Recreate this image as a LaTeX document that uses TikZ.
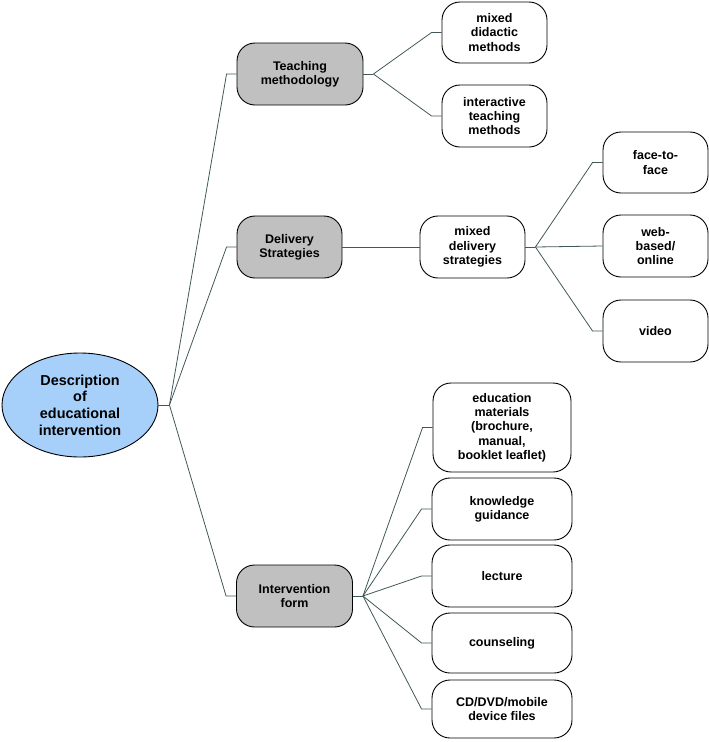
\documentclass[tikz,border=0pt]{standalone}
\usepackage{fontspec}
\setmainfont{Liberation Sans}
\usetikzlibrary{shapes.geometric}
\definecolor{rootblue}{RGB}{166,208,250}
\definecolor{boxgray}{RGB}{192,192,192}
\definecolor{linecol}{RGB}{64,88,88}
\begin{document}
\begin{tikzpicture}[x=1pt,y=-1pt,
  base/.style={draw=black,line width=0.9pt,align=center,inner sep=0pt,
    font=\fontsize{12.5}{14.3}\selectfont\bfseries},
  rootnode/.style={base,ellipse,fill=rootblue,minimum width=156pt,minimum height=104pt,
    font=\fontsize{14.4}{16.7}\selectfont\bfseries},
  catbox/.style={base,rectangle,rounded corners=18pt,fill=boxgray,minimum height=62pt},
  leafbox/.style={base,rectangle,rounded corners=18pt,fill=white,minimum height=62pt},
  conn/.style={draw=linecol,line width=0.8pt}
]
\useasboundingbox (0,0) rectangle (709,742);
% root
\node[rootnode] (root) at (80,405) {Description\\of\\educational\\intervention};
% categories
\node[catbox,minimum width=126pt] (teach) at (300,74) {Teaching\\methodology};
\node[catbox,minimum width=105pt] (deliv) at (289.5,247) {Delivery\\Strategies};
\node[catbox,minimum width=116pt,minimum height=62pt] (interv) at (294.5,596) {Intervention\\form};
% teaching children
\node[leafbox,minimum width=105pt,minimum height=61pt] (didac) at (494.5,32.5) {mixed\\didactic\\methods};
\node[leafbox,minimum width=105pt] (inter) at (494.5,116) {interactive\\teaching\\methods};
% delivery children
\node[leafbox,minimum width=105pt] (mixdel) at (472.5,247) {mixed\\delivery\\strategies};
\node[leafbox,minimum width=105pt,minimum height=61pt] (face) at (655.5,162.5) {face-to-\\face};
\node[leafbox,minimum width=105pt] (web) at (655.5,246) {web-\\based/\\online};
\node[leafbox,minimum width=105pt] (video) at (655.5,331) {video};
% intervention children
\node[leafbox,minimum width=138pt,minimum height=89pt] (edu) at (502,427.5) {education\\materials\\(brochure,\\manual,\\booklet leaflet)};
\node[leafbox,minimum width=140pt] (know) at (502,509) {knowledge\\guidance};
\node[leafbox,minimum width=140pt] (lect) at (502,576) {lecture};
\node[leafbox,minimum width=140pt,minimum height=60pt] (couns) at (502,643) {counseling};
\node[leafbox,minimum width=140pt,minimum height=58pt] (cd) at (502,709) {CD/DVD/mobile\\device files};
% connectors: root
\draw[conn] (root.east) -- ++(11,0) coordinate (rj);
\draw[conn] (rj) -- ([xshift=-10pt]teach.west) -- (teach.west);
\draw[conn] (rj) -- ([xshift=-10pt]deliv.west) -- (deliv.west);
\draw[conn] (rj) -- ([xshift=-10pt]interv.west) -- (interv.west);
% teaching
\draw[conn] (teach.east) -- ++(10,0) coordinate (tj);
\draw[conn] (tj) -- ([xshift=-10pt]didac.west) -- (didac.west);
\draw[conn] (tj) -- ([xshift=-10pt]inter.west) -- (inter.west);
% delivery
\draw[conn] (deliv.east) -- (mixdel.west);
\draw[conn] (mixdel.east) -- ++(10,0) coordinate (mj);
\draw[conn] (mj) -- ([xshift=-10pt]face.west) -- (face.west);
\draw[conn] (mj) -- (web.west);
\draw[conn] (mj) -- ([xshift=-10pt]video.west) -- (video.west);
% intervention
\draw[conn] (interv.east) -- ++(10,0) coordinate (ij);
\draw[conn] (ij) -- ([xshift=-10pt]edu.west) -- (edu.west);
\draw[conn] (ij) -- ([xshift=-10pt]know.west) -- (know.west);
\draw[conn] (ij) -- ([xshift=-10pt]lect.west) -- (lect.west);
\draw[conn] (ij) -- ([xshift=-10pt]couns.west) -- (couns.west);
\draw[conn] (ij) -- ([xshift=-10pt]cd.west) -- (cd.west);
\end{tikzpicture}
\end{document}
